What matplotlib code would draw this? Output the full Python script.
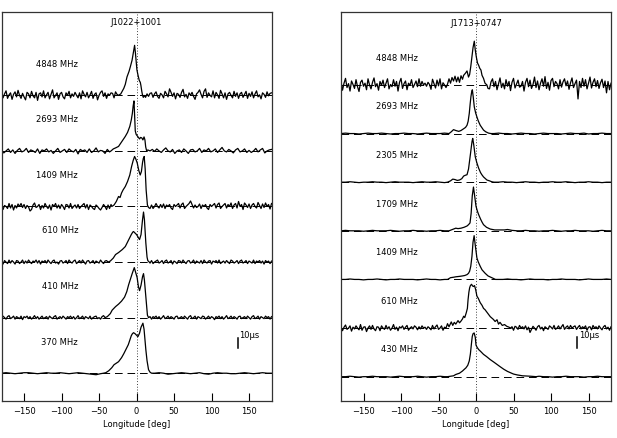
import numpy as np
import matplotlib
matplotlib.use('Agg')
from matplotlib import pyplot as plt

plt.rcParams['font.family'] = 'DejaVu Sans'
plt.rcParams['lines.scale_dashes'] = False

##################################
# J1022+1001 profiles (amplitude in % of peak)
##################################
left_title = 'J1022+1001'
left_freqs = ['4848 MHz', '2693 MHz', '1409 MHz', '610 MHz', '410 MHz', '370 MHz']

l4848_lon = [-24, -21, -17, -15, -12.7, -10, -8.3, -6, -4.8, -3.5, -2.6, -1.5, 0.5, 2, 3.6, 5, 5.8, 7, 8, 9]
l4848_amp = [0, 3, 14, 22, 37, 48, 57, 70, 81, 92, 100, 85, 51, 40, 30, 26, 20, 8, 0, -4]
l4848_noise = [6, -5, 3, 9, -6, 1, 5, -8, 2, 7, -3, 10, 0, -6, 4, -3, -9, 6, 3, -5,
               8, -1, -5, 6, -10, 3, 5, -3, 9, -5, 1, 6, -7, 2, 11, -5, 0, 5, -8, 3,
               6, -3, -7, 5, 0, 8, -5, 3, -2, 6, 0, -5, 5, -7, 9, 2, -3, 6, -5, 1,
               8, -6, 2, 5, -9, 0, 6, 9, -2, 5, -6, 3, 0, 5, 4, -5, 7, 2, 0, 3,
               0, 0, 0, 0, 0, 0, 0, 0, 0, 0, 0, 0, 0, 0, 0, 0, -4, 3, -2, 4,
               5, -4, 3, 7, -2, -6, 4, 1, -5, 8, 3, -3, 13, 6, -2, 5, -7, 4, 2, -4,
               6, 12, -3, 2, -6, 5, 0, 6, -2, -8, 3, 6, 11, 2, -5, 8, 13, -4, 5, 0,
               -3, 9, -5, 6, 1, -6, 10, 3, -5, 5, -8, 3, 6, 0, -5, 8, -2, 5, -6, 3,
               6, -4, 2, 8, -6, 4, -2, 7, -5, 3, 9, -3, 1, -7, 5, 2, -4, 7, -1, 4, 5]

l2693_lon = [-34, -31, -28, -24, -20, -15, -12, -9, -7, -5.6, -4.5, -3.4, -2.5, -1.7, -0.5, 1, 2.5, 4, 5.5, 7, 8.5, 10, 11.2, 12.2, 13.5, 15]
l2693_amp = [0, 4, 6, 9, 18, 29, 37, 49, 62, 75, 90, 100, 70, 40, 33, 30, 27, 24, 27, 26, 22, 28, 22, 8, 0, 2]
l2693_noise = [2, -4, 0, 4, -3, 2, -5, 1, 5, -2, 0, 5, -3, 2, 0, -3, 4, -5, 2, 0,
               4, -2, 1, -5, 0, 5, -3, 0, 3, -3, 4, 0, -2, 3, -6, 3, 0, 2, -3, 4,
               -3, 0, 6, -2, 1, 0, -5, 3, -2, 0, 2, -4, 5, 2, 0, -3, 4, 0, -3, 2,
               0, 5, -2, 1, 5, -4, 0, 3, -1, 4, 0, -3, 2, 6, 0, -2, 3, -5, 0, 2,
               -3, 4, 0, -5, 2, 3, -2, 0, 5, -3, 2, 0, 5, -2, 0, 4, -3, 2, 7, 0,
               -2, 3, 0, -4, 2, 5, -2, 0, 4, -3, 1, -3, 0, 5, -2, 2, 5, -4, 0, 2, 3]

l1409_lon = [-33, -30, -27, -24, -22, -20, -18, -15, -12, -9, -6.6, -4.5, -2.6, -1, 0.9, 3, 4.9, 6.5, 8, 9, 10.2, 11.5, 12.8, 14.5, 16]
l1409_amp = [0, 3, 10, 20, 18, 27, 33, 40, 50, 63, 80, 92, 100, 95, 87, 72, 63, 70, 88, 96, 100, 75, 33, 3, -2]
l1409_noise = [4, -6, 2, 0, -4, 6, -3, 4, -7, 2, -3, 5, 0, 6, -2, 4, -4, 2, -1, -9,
               -6, 3, 7, -2, 0, 4, -6, 2, -3, 6, 0, -4, 3, -7, 4, 0, 6, -3, 3, -4,
               4, 0, -6, 4, 3, -3, 6, -4, 0, 3, -3, 4, -4, 0, 3, 6, -3, 4, -6, 3,
               0, -4, -6, 3, 0, -4, -7, -2, 4, 0, -6, 3, -4, 4, 0, -3, 6, 0, 0, 0,
               0, 0, 0, 0, 0, 0, 0, 0, 0, 0, 0, 0, 0, 0, 0, 0, 0, 0, 3, -4,
               3, -4, 0, 6, 0, -3, 4, -2, 5, -4, 3, 0, 4, -3, -6, 4, 0, 3, 6, -3,
               4, 7, -4, 0, 3, 6, 11, 4, -3, 3, -2, 0, 5, -4, 3, 0, 4, -3, -6, 4,
               0, 3, 6, -3, 4, 7, -4, 0, 3, 6, -3, 4, 0, 7, -4, 3, 6, -3, 10, 0,
               4, -6, 7, 3, -2, 5, -4, 3, 6, 0, -3, 8, 2, -4, 5, -2, 7, 0, 4, -5, 6]

l610_lon = [-38, -35, -31, -28, -24, -19, -15, -12.7, -10, -7, -5, -4, -2, 0, 2, 4, 6, 8, 9.3, 10.5, 12.4, 14, 15, 17]
l610_amp = [0, 2, 8, 15, 19, 25, 31, 38, 46, 55, 60, 61, 58, 55, 50, 45, 55, 85, 100, 85, 38, 10, 3, 0]
l610_noise = [2, -4, 3, 0, -3, 4, -2, 3, 0, -4, 3, 2, -3, 0, 4, -3, 2, -2, 4, 0,
              -3, 2, 0, 4, -2, 3, -4, 2, 0, 3, -2, 4, 0, -3, 2, 4, -2, 0, -4, 2,
              3, -2, 0, 3, -3, 4, 0, -2, 2, 4, -3, 0, 3, -2, 4, 0, -4, 2, 3, -2,
              0, 3, -3, 2, 0, -2, 4, 0, -3, 2, 3, -2, 0, 0, 0, 0, 0, 0, 0, 0,
              0, 0, 0, 0, 0, 0, 0, 0, 0, 0, 0, 0, 0, 0, 0, 0, 0, 0, 0, -2,
              3, -3, 0, 2, 4, -2, 0, 3, -3, 2, 4, -2, 0, 3, -4, 2, 0, -3, 3, 2,
              -2, 4, 0, -3, 2, 3, -2, 0, 4, -3, 2, 0, -2, 3, -3, 4, 0, -2, 2, 3,
              -4, 2, 0, 3, -2, 4, -3, 0, 2, -2, 3, 0, -3, 4, 2, -2, 0, 3, -3, 2,
              4, -2, 0, 3, -3, 2, 0, -2, 4, -3, 2, 0, 3, -2, 2, -4, 3, 0, 2, -3, 2]

l410_lon = [-42, -39, -35, -32.5, -28, -24, -20, -16, -13, -10.5, -8, -5.6, -4, -3, -1.5, 0.8, 2.5, 4, 6, 8, 9.3, 10.5, 12.4, 14.5, 16]
l410_amp = [0, 2, 8, 15, 22, 27, 33, 41, 52, 66, 78, 89, 96, 100, 92, 80, 62, 54, 65, 82, 88, 75, 42, 5, 0]
l410_noise = [-2, 3, 0, -3, 2, 4, -2, 0, 3, -3, 2, 0, -2, 3, -4, 2, 0, 3, -2, 2,
              -3, 0, 4, -2, 2, -3, 0, 3, -2, 0, 2, -3, 3, 0, -2, 2, 4, -3, 0, 2,
              -2, 3, 0, -3, 2, 0, 3, -2, 2, -3, 0, 4, -2, 0, 3, -3, 2, 0, -2, 3,
              -3, 0, 2, 3, -2, 0, -3, 2, 4, 0, 0, 0, 0, 0, 0, 0, 0, 0, 0, 0,
              0, 0, 0, 0, 0, 0, 0, 0, 0, 0, 0, 0, 0, 0, 0, 0, 0, 0, 0, 2,
              -3, 2, 0, 3, -2, 2, -3, 0, 4, -2, 0, 3, -2, 2, 0, -3, 2, 3, -2, 0,
              2, -2, 3, 0, -3, 2, 4, -2, 0, 3, -3, 2, 0, -2, 3, 2, -3, 0, 3, -2,
              2, 0, -4, 2, 0, 3, -2, 2, -3, 0, 4, -2, 0, 3, -2, 2, 0, -3, 2, 3,
              -2, 0, 2, -2, 3, 0, -3, 2, 4, -2, 0, 3, -3, 2, 0, -2, 3, 0, 2, -3, 2]

l370_lon = [-44, -41, -37, -33, -30, -27, -24, -20, -17, -14, -11, -9, -7, -5.5, -4, -2, 0, 1.8, 4, 6, 8.5, 10, 12.4, 14, 16, 18, 20]
l370_amp = [0, 1, 5, 11, 17, 20, 23, 31, 39, 48, 57, 66, 75, 79, 81, 79, 76, 73, 80, 92, 100, 88, 47, 25, 7, 2, 0]
l370_noise = [0, 1, 0, -1, 0, 1, 1, 0, -1, 0, 1, 0, 0, 1, 0, -1, 0, 1, 0, -1,
              -2, -3, -1, 0, 1, 0, 0, 0, 0, 0, 0, 0, 0, 0, 0, 1, 0, -2, -1, 0,
              1, 0, -1, 0, 1, -1, -2, 0, 1, 0, 0, -1, -1, 0, 1, 0, -1, 0, 1, 0, 0]

##################################
# J1713+0747 profiles (amplitude in % of peak)
##################################
right_title = 'J1713+0747'
right_freqs = ['4848 MHz', '2693 MHz', '2305 MHz', '1709 MHz', '1409 MHz', '610 MHz', '430 MHz']

r4848_lon = [-38, -36, -34, -32, -30, -28, -26, -24, -22, -20, -18, -16.5, -14, -12, -10, -8.5, -7, -5.4, -4, -2.3, -1, 0.4, 2, 3.5, 5, 6.6, 8, 10, 12, 14.5, 16]
r4848_amp = [2, 14, 4, 17, 9, 20, 7, 18, 6, 21, 13, 22, 27, 32, 18, 24, 42, 64, 85, 100, 80, 64, 50, 45, 38, 34, 22, 15, 4, 0, -8]
r4848_noise = [8, -12, 4, 15, -6, 3, -14, 9, 1, -8, 12, -4, -15, 6, 11, -3, 4, -11, 14, 0,
               -9, 6, 16, -4, 3, -12, 8, -1, 11, -6, 4, 14, -9, 1, -4, 12, -3, 8, -14, 6,
               15, -8, 3, 9, -11, 4, -1, 12, -6, 1, 9, -4, 14, -3, 8, 0, 4, -3, 6, 1,
               -10, 13, 3, -7, 11, -2, 14, -9, 5, 0, -6, 10, 2, -12, 7, 0, 0, 0, 0, 0,
               0, 0, 0, 0, 0, 0, 0, 0, 0, 0, 0, 0, 0, 0, 0, 0, 0, 0, 5, -9,
               7, 14, -4, 8, -11, 3, 16, -6, 4, -9, 12, -3, 8, -13, 6, 15, -7, 2, 11, -5,
               -3, 8, -14, 6, 15, -4, 11, -8, 1, 18, -6, 9, -11, 4, 14, -3, 19, -8, 6, -12,
               10, 15, -4, 8, 3, -9, 12, -5, 7, 14, -2, 9, -10, 5, 16, -6, 3, 11, -32, 8,
               -6, 15, -3, 12, -9, 4, 18, -7, 6, 14, -4, 10, -8, 5, 13, -6, 9, -18, 8, -11, 4]

r2693_lon = [-36, -33, -30, -27, -23, -20, -16.5, -14, -12, -10.5, -9, -7.8, -6.8, -5.8, -4.9, -3.8, -2.3, -0.5, 1.2, 3, 5.6, 8, 10, 13, 16.7, 20]
r2693_amp = [0, 4, 9, 7, 5, 7, 11, 14, 19, 28, 46, 68, 84, 95, 100, 85, 61, 47, 38, 29, 19, 13, 8, 4, 1, 0]
r2693_noise = [0, 1, 0, 0, -1, 0, 1, 0, 0, 1, 0, -1, 0, 0, 1, 0, 0, -1, 0, 1,
               0, 0, 0, 1, 0, -1, 0, 0, 1, 0, 0, 0, 0, 0, 0, 1, 0, 0, -1, 0,
               1, 0, 0, -1, 0, 1, 0, 0, 0, -1, 0, 1, 0, 0, 1, -1, 0, 0, 1, 0, 0]

r2305_lon = [-38, -34, -31, -28, -25, -22, -19, -16.5, -14, -12, -10, -8.5, -7.3, -6.3, -5.3, -4.4, -3, -1, 1, 3.5, 6, 7.8, 10, 14.5, 18, 21, 24]
r2305_amp = [0, 3, 7, 6, 4, 5, 8, 14, 16, 17, 30, 50, 66, 80, 93, 100, 85, 58, 45, 32, 22, 17, 12, 5, 3, 1, 0]
r2305_noise = [0, 0, 1, 0, -1, 0, 0, 1, 0, 0, -1, 0, 1, 0, 0, 0, -1, 0, 1, 0,
               0, 1, 0, -1, 0, 0, 1, 0, 0, 0, 0, 0, 0, 0, 0, 0, 1, 0, 0, -1,
               0, 1, 0, 0, -1, 0, 0, 1, 0, 0, 1, 0, -1, 0, 0, 1, 0, 0, -1, 0, 0]

r1709_lon = [-36, -30, -27, -24, -20, -16, -12, -10, -8, -6.5, -5, -3.4, -2, 0, 2, 3.5, 6, 8, 10, 14, 19, 25, 30, 38, 42, 48, 55]
r1709_amp = [0, 4, 6, 5, 6, 8, 11, 14, 18, 40, 80, 100, 82, 56, 44, 37, 27, 20, 14, 8, 4, 2, 2, 2, 3, 1, 0]
r1709_noise = [0, 1, 0, 0, 0, -1, 0, 1, 0, 0, 0, 1, 0, -1, 0, 0, 1, 0, 0, -1,
               0, 0, 1, 0, 0, 0, 0, 0, 0, 0, 0, 0, 0, 0, 0, 0, 0, 0, 0, 0,
               0, 1, 0, 0, -1, 0, 0, 1, 0, -1, 0, 0, 1, 0, 0, 0, -1, 0, 1, 0, 0]

r1409_lon = [-38, -34, -30, -27, -22, -18, -15, -12, -10, -8.5, -7, -5.4, -4, -2.5, -1, 1.2, 3, 5.6, 8, 12.2, 16, 21, 26]
r1409_amp = [0, 4, 5, 6, 7, 8, 9, 11, 14, 19, 30, 53, 85, 100, 78, 49, 40, 30, 22, 14, 8, 4, 0]
r1409_noise = [0, 0, 1, 0, 0, -1, 0, 0, 1, 0, -1, 0, 0, 1, 0, 0, 0, -1, 0, 1,
               0, 0, -1, 0, 0, 0, 0, 0, 0, 0, 0, 0, 0, 0, 0, 0, 0, 1, 0, 0,
               -1, 0, 1, 0, 0, 0, -1, 0, 0, 1, 0, 0, 0, -1, 0, 1, 0, 0, 0, 1, 0]

r610_lon = [-40, -38, -36, -33, -31, -29, -27, -24, -22, -20, -18, -16.5, -15, -13, -11.5, -10.6, -9.5, -8.5, -7.5, -6, -4.5, -3.4, -2, -0.5, 1.2, 3, 5.6, 8, 10, 12, 15, 17, 19, 21, 23, 25.5, 28, 30, 32, 35, 38, 41, 44]
r610_amp = [0, 10, 3, 14, 6, 13, 9, 17, 12, 16, 21, 27, 24, 35, 45, 65, 82, 92, 97, 100, 96, 95, 97, 88, 73, 68, 58, 52, 45, 42, 35, 30, 26, 23, 20, 15, 19, 9, 13, 6, 8, 4, 2]
r610_noise = [3, -6, 2, 7, -3, 0, 5, -7, 2, -2, 5, 0, -4, 8, -5, 2, 3, -8, 0, 5,
              -3, 6, -2, -6, 3, 2, -6, 5, 0, -3, 6, -2, 3, -5, 0, 8, -3, 2, -6, 3,
              0, 5, -3, 2, 6, -5, 0, 3, -2, 5, 2, -4, 3, -2, 5, 0, 2, -3, 3, 0,
              -4, 6, -2, 3, 7, -3, 0, 5, -5, 2, 0, 0, 0, 0, 0, 0, 0, 0, 0, 0,
              0, 0, 0, 0, 0, 0, 0, 0, 0, 0, 0, 0, 0, 0, 0, 0, 0, 0, 0, 0,
              0, 0, 0, 6, -2, 5, 0, 3, -3, 6, 2, -4, 5, 0, 3, -5, 4, 2, -3, 6,
              0, 3, -2, 5, -4, 2, -10, -3, 4, 0, -5, 3, 6, -2, 2, -6, 3, 0, -3, 5,
              2, -2, 6, -3, 0, 5, -2, 3, 8, -3, 2, 5, -2, 6, 0, 3, 5, -3, 2, 6,
              -2, 3, 0, 5, -5, 2, 3, -4, 6, 0, 3, -2, 5, 0, -4, 3, 6, -2, 2, -5, 3]

r430_lon = [-38, -34, -30, -27, -22, -18, -15.5, -13.5, -11, -9, -7.5, -6, -5, -4, -2.5, -1, 0, 1.5, 3.5, 6, 10, 14, 19, 24, 28, 32, 37, 42, 46, 50, 55, 62, 73, 80]
r430_amp = [0, 1, 2, 5, 8, 13, 17, 20, 26, 36, 52, 77, 92, 98, 100, 90, 72, 67, 62, 58, 51, 46, 39, 33, 28, 23, 17, 12, 9, 6, 4, 2, 1, 0]
r430_noise = [0, 0, 1, 0, -1, 0, 0, 1, 0, 0, 0, -1, 0, 1, 0, 0, 0, 1, 0, -1,
              0, 0, 1, 0, 0, 0, 0, 0, 0, 0, 0, 0, 0, 0, 0, 0, 0, 0, 0, 0,
              0, 0, 0, 0, 1, 0, 0, -1, 0, 0, 1, 0, 0, 0, -1, 0, 0, 1, 0, 0, 0]

left_profiles = [(l4848_lon, l4848_amp, l4848_noise), (l2693_lon, l2693_amp, l2693_noise),
                 (l1409_lon, l1409_amp, l1409_noise), (l610_lon, l610_amp, l610_noise),
                 (l410_lon, l410_amp, l410_noise), (l370_lon, l370_amp, l370_noise)]
right_profiles = [(r4848_lon, r4848_amp, r4848_noise), (r2693_lon, r2693_amp, r2693_noise),
                  (r2305_lon, r2305_amp, r2305_noise), (r1709_lon, r1709_amp, r1709_noise),
                  (r1409_lon, r1409_amp, r1409_noise), (r610_lon, r610_amp, r610_noise),
                  (r430_lon, r430_amp, r430_noise)]


def build(plon, pamp, noise):
    # off-pulse samples on an even grid, pulse samples in between
    nlon = np.linspace(-180, 180, len(noise))
    noise = np.array(noise, dtype=float)
    lo = nlon < plon[0]
    hi = nlon > plon[-1]
    x = np.concatenate([nlon[lo], plon, nlon[hi]])
    y = np.concatenate([noise[lo], pamp, noise[hi]])
    return x, y / 100.0


def panel(ax, title, freqs, profiles, title_y, lab_x, lab_dy, bar):
    n = len(profiles)
    for i, (plon, pamp, noise) in enumerate(profiles):
        off = n - 1 - i
        x, y = build(plon, pamp, noise)
        ax.axhline(off, color='k', lw=0.7, ls=(0, (5.5, 3.5)))
        ax.plot(x, off + 0.9 * y, color='k', lw=0.9)
        ax.text(lab_x, off + lab_dy, freqs[i], ha='right', va='center', fontsize=6)
    ax.axvline(0, color='k', lw=0.6, ls=(0, (0.6, 1.4)))
    ax.text(0, title_y, title, ha='center', va='center', fontsize=6)
    ax.plot([135, 135], bar, color='k', lw=1.1)
    ax.text(137, bar[1] + 0.03, '10μs', ha='left', va='center', fontsize=6)
    ax.set_xlim(-180, 180)
    ax.set_ylim(-0.5, n + 0.5)
    ax.set_xticks([-150, -100, -50, 0, 50, 100, 150])
    ax.set_yticks([])
    ax.tick_params(axis='x', direction='in', length=5.5, width=0.8, labelsize=6, pad=4)
    ax.set_xlabel('Longitude [deg]', fontsize=6, labelpad=3)
    for s in ax.spines.values():
        s.set_color('#333333')
        s.set_linewidth(0.9)


fig = plt.figure(figsize=(6.17, 4.38), dpi=100)
axl = fig.add_axes([0.0025, 0.0845, 0.4376, 0.8881])
axr = fig.add_axes([0.5527, 0.0845, 0.4376, 0.8881])

panel(axl, left_title, left_freqs, left_profiles, 6.31, -78, 0.56, [0.46, 0.64])
panel(axr, right_title, right_freqs, right_profiles, 7.27, -77.5, 0.55, [0.60, 0.81])

fig.savefig('out.png', dpi=100)
